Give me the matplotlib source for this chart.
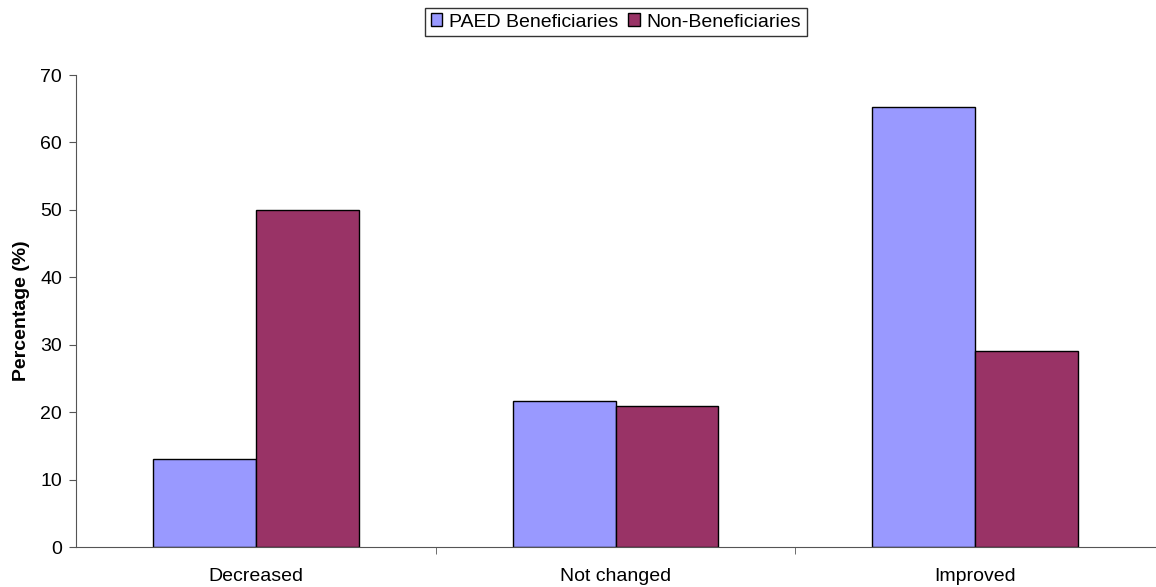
import numpy as np
import matplotlib.pyplot as plt

plt.rcParams['font.family'] = ['Liberation Sans', 'DejaVu Sans']

categories = ['Decreased', 'Not changed', 'Improved']
beneficiaries = [13.0, 21.7, 65.3]
non_beneficiaries = [50.0, 20.9, 29.1]

fig = plt.figure(figsize=(11.56, 5.87), dpi=100)
ax = fig.add_axes([0.0657, 0.0681, 0.9335, 0.8041])

x = np.arange(len(categories))
w = 1 / 3.5
ax.bar(x - w / 2, beneficiaries, w, color='#9999FF', edgecolor='black', linewidth=1,
       label='PAED Beneficiaries')
ax.bar(x + w / 2, non_beneficiaries, w, color='#993366', edgecolor='black', linewidth=1,
       label='Non-Beneficiaries')

ax.set_xlim(-0.5, len(categories) - 0.5)
ax.set_ylim(0, 70)
ax.set_yticks(range(0, 71, 10))
ax.set_xticks(x)
ax.set_xticklabels(categories)
ax.set_xticks(np.arange(0.5, len(categories) - 0.5, 1), minor=True)
ax.tick_params(axis='x', which='major', length=0, pad=15, labelsize=14)
ax.tick_params(axis='x', which='minor', length=5, color='#555555', direction='out')
ax.tick_params(axis='y', length=5, color='#555555', labelsize=14, pad=5)
ax.set_ylabel('Percentage (%)', fontsize=14, fontweight='bold', labelpad=7)

for s in ['top', 'right']:
    ax.spines[s].set_visible(False)
for s in ['left', 'bottom']:
    ax.spines[s].set_color('#555555')

leg = fig.legend(loc='center', bbox_to_anchor=(616 / 1156, 1 - 22 / 587), ncol=2,
                 frameon=True, fancybox=False, edgecolor='black', fontsize=14,
                 handlelength=0.6, handleheight=0.6, handletextpad=0.35,
                 columnspacing=0.5, borderpad=0.3)
leg.get_frame().set_linewidth(1)

fig.savefig('out.png', dpi=100)
